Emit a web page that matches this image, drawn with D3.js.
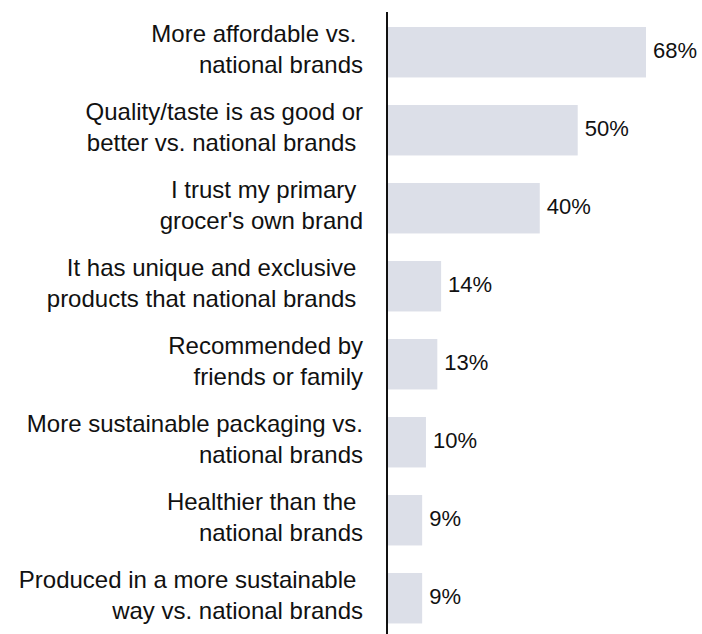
<!DOCTYPE html>
<html>
<head>
<meta charset="utf-8">
<script src="https://cdn.jsdelivr.net/npm/d3@7"></script>
<style>
  html, body { margin: 0; padding: 0; background: #fff; }
  svg { display: block; }
  text { font-family: "Liberation Sans", Arial, sans-serif; fill: #111; white-space: pre; }
</style>
</head>
<body>
<svg id="chart" width="702" height="634"></svg>
<script>
// Reasons for buying the grocer's own brand (share of respondents, %)
const reasons = [
  ["More affordable vs. ", "national brands"],
  ["Quality/taste is as good or", "better vs. national brands "],
  ["I trust my primary ", "grocer's own brand"],
  ["It has unique and exclusive ", "products that national brands "],
  ["Recommended by", "friends or family"],
  ["More sustainable packaging vs.", "national brands"],
  ["Healthier than the ", "national brands"],
  ["Produced in a more sustainable ", "way vs. national brands"]
];
const shares = [68, 50, 40, 14, 13, 10, 9, 9];

const svg = d3.select("#chart");
const x0 = 388;
const x = d3.scaleLinear().domain([0, 68]).range([x0, 646]);

// band layout: step 78px, bar thickness ~50.5px, first bar top at 27px
const pIn = 0.353, pOut = 0.18, step = 78;
const r0 = 27 - step * pOut;
const y = d3.scaleBand()
  .domain(d3.range(reasons.length))
  .range([r0, r0 + step * (reasons.length - pIn + 2 * pOut)])
  .paddingInner(pIn)
  .paddingOuter(pOut);

// bars
svg.append("g").selectAll("rect")
  .data(shares)
  .join("rect")
  .attr("x", x0)
  .attr("y", (d, i) => y(i))
  .attr("width", d => x(d) - x0)
  .attr("height", y.bandwidth())
  .attr("fill", "#dcdfe8");

// value labels
svg.append("g").selectAll("text")
  .data(shares)
  .join("text")
  .attr("x", d => x(d) + 7)
  .attr("y", (d, i) => y(i) + y.bandwidth() / 2 + 6)
  .attr("font-size", 22)
  .text(d => d + "%");

// category labels (two lines each)
const lab = svg.append("g").selectAll("text")
  .data(reasons)
  .join("text")
  .attr("text-anchor", "end")
  .attr("font-size", 24)
  .attr("y", (d, i) => y(i) + y.bandwidth() / 2);
lab.selectAll("tspan")
  .data(d => d)
  .join("tspan")
  .attr("x", 363)
  .attr("dy", (d, j) => j === 0 ? -10 : 31)
  .text(d => d);

// vertical axis line
svg.append("line")
  .attr("x1", 387).attr("x2", 387)
  .attr("y1", 12).attr("y2", 634)
  .attr("stroke", "#111")
  .attr("stroke-width", 2);
</script>
</body>
</html>
